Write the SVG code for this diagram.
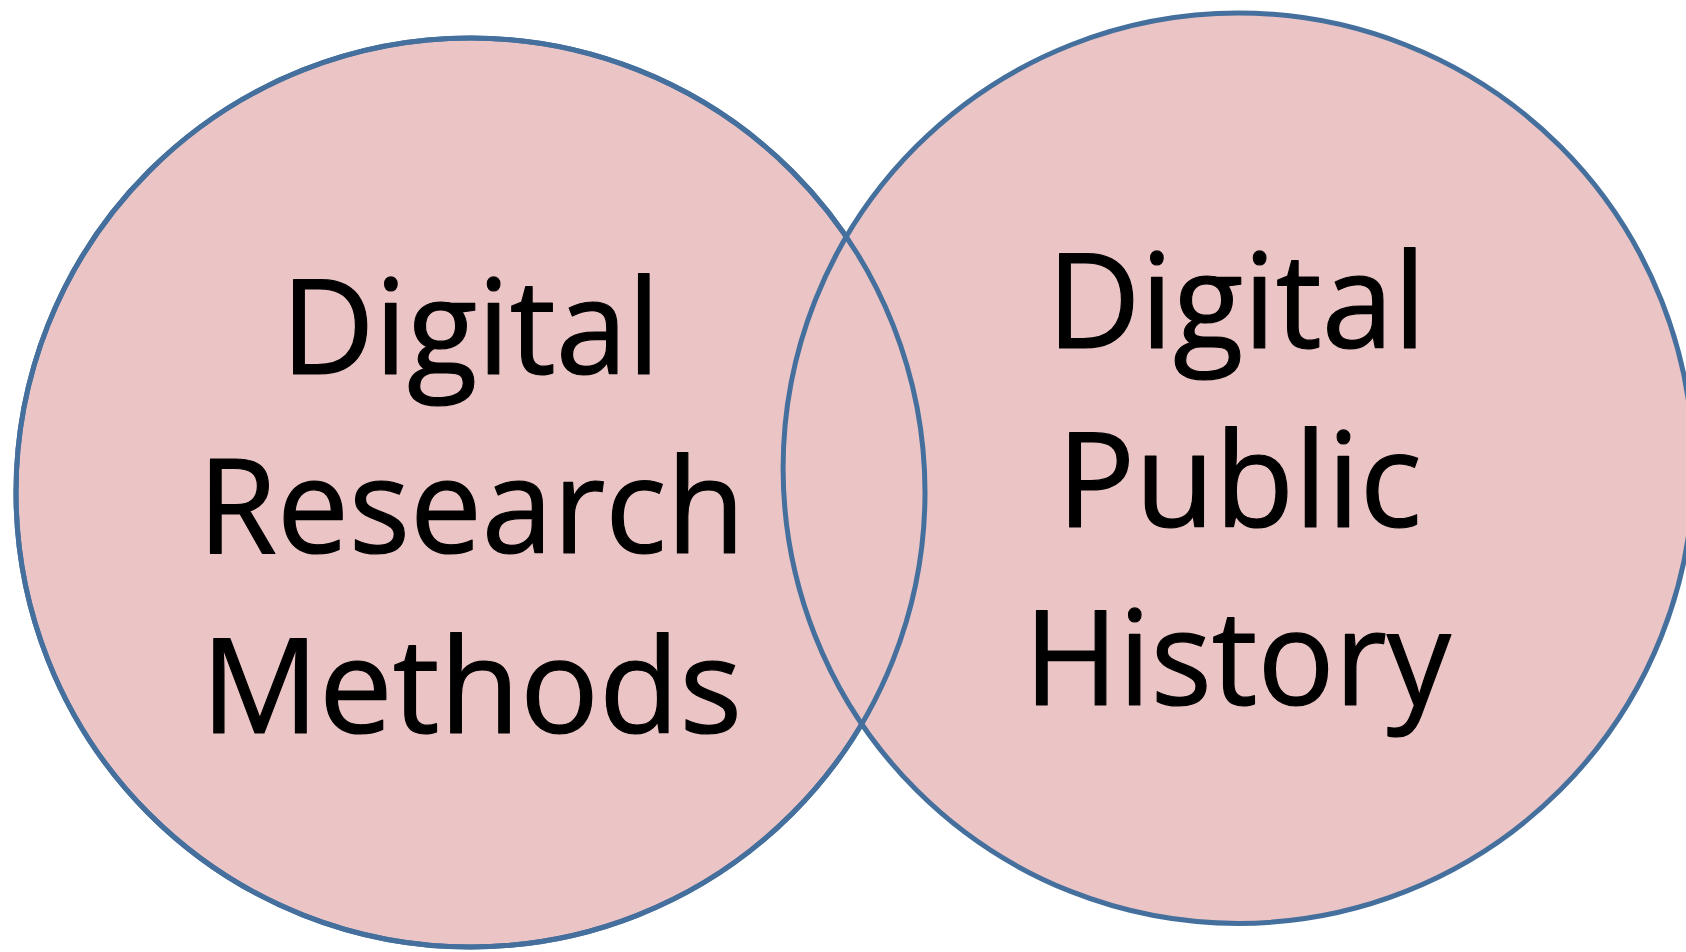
<svg xmlns="http://www.w3.org/2000/svg" xmlns:xlink="http://www.w3.org/1999/xlink" width="1686" height="952" viewBox="0 0 1686 952">
<style>
.set{fill:#EBC5C5;stroke:#45709E;stroke-width:5}
.ring{fill:none;stroke:#45709E;stroke-width:5}
.lbl{font-family:"Open Sans","Noto Sans",sans-serif;font-size:132px;font-weight:400;fill:#000;stroke:#000;stroke-width:1.2;stroke-linejoin:round}
</style>
<defs>
<circle id="leftShape" cx="470.5" cy="492.5" r="454.5"/>
</defs>
<rect width="1686" height="952" fill="#FFFFFF"/>
<g id="node-digital-research-methods">
<use xlink:href="#leftShape" class="set"/>
<text class="lbl" x="281" y="374" textLength="379" lengthAdjust="spacingAndGlyphs">Digital</text>
<text class="lbl" x="198" y="553" textLength="547" lengthAdjust="spacingAndGlyphs">Research</text>
<text class="lbl" x="201" y="733" textLength="541" lengthAdjust="spacingAndGlyphs">Methods</text>
</g>
<g id="node-digital-public-history">
<circle class="set" cx="1238.3" cy="468.2" r="455.2"/>
<text class="lbl" x="1047" y="348" textLength="379" lengthAdjust="spacingAndGlyphs">Digital</text>
<text class="lbl" x="1057" y="527" textLength="365" lengthAdjust="spacingAndGlyphs">Public</text>
<text class="lbl" x="1024" y="705" textLength="427" lengthAdjust="spacingAndGlyphs">History</text>
</g>
<g id="outlines">
<use xlink:href="#leftShape" class="ring"/>
</g>
</svg>
